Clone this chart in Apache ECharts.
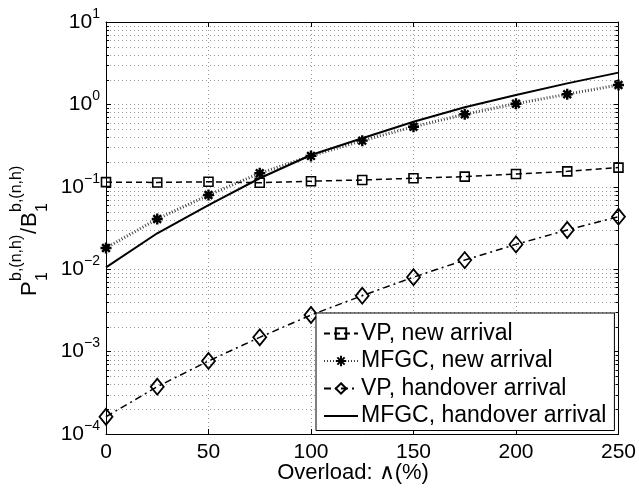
<!DOCTYPE html>
<html>
<head>
<meta charset="utf-8">
<script src="https://cdn.jsdelivr.net/npm/echarts@6/dist/echarts.min.js"></script>
<style>
  html, body { margin: 0; padding: 0; background: #fff; }
  #chart { width: 639px; height: 491px; }
</style>
</head>
<body>
<div id="chart"></div>
<script>
// Overload levels (%)
const overload = [0, 25, 50, 75, 100, 125, 150, 175, 200, 225, 250];

// Blocking ratio P1/B1 for each scheme
const vpNew        = [0.114, 0.113, 0.115, 0.112, 0.117, 0.121, 0.127, 0.133, 0.143, 0.154, 0.171];
const mfgcNew      = [0.0181, 0.0407, 0.0794, 0.146, 0.237, 0.363, 0.535, 0.759, 1.02, 1.33, 1.72];
const vpHandover   = [0.000162, 0.000375, 0.00077, 0.00149, 0.00278, 0.00477, 0.0080, 0.0129, 0.0200, 0.0299, 0.0434];
const mfgcHandover = [0.0105, 0.0273, 0.060, 0.127, 0.243, 0.388, 0.617, 0.923, 1.30, 1.80, 2.43];

const seriesNames = ['VP, new arrival', 'MFGC, new arrival', 'VP, handover arrival', 'MFGC, handover arrival'];

// Axis ranges
const xMin = 0, xMax = 250, xStep = 50;
const yMin = 1e-4, yMax = 10;

// Minor log grid values (2..9 x 10^k)
const minorY = [];
for (let k = -4; k < 1; k++) {
  for (let m = 2; m <= 9; m++) minorY.push([0, m * Math.pow(10, k)]);
}

const FONT = '"Liberation Sans", Arial, Helvetica, sans-serif';
const pair = arr => overload.map((x, i) => [x, arr[i]]);

const chart = echarts.init(document.getElementById('chart'), null, { renderer: 'canvas' });

const gridLine = { show: true, lineStyle: { color: '#9a9a9a', width: 1, type: [1, 3] } };

const supLabel = v => {
  const e = Math.round(Math.log10(v));
  return '{b|10}{s|' + (e < 0 ? '\u2212' + (-e) : String(e)) + '}';
};

const option = {
  animation: false,
  backgroundColor: '#fff',
  grid: { left: 106, top: 22, right: 20, bottom: 57, containLabel: false },
  xAxis: [
    {
      type: 'value', min: xMin, max: xMax, interval: xStep, position: 'bottom',
      axisLine: { show: true, lineStyle: { color: '#000', width: 1 } },
      axisTick: { show: true, inside: true, length: 5, lineStyle: { color: '#000' } },
      axisLabel: { margin: 8, color: '#000', fontSize: 21, fontFamily: FONT },
      splitLine: gridLine
    },
    {
      type: 'value', min: xMin, max: xMax, interval: xStep, position: 'top',
      axisLine: { show: true, onZero: false, lineStyle: { color: '#000', width: 1 } },
      axisTick: { show: true, inside: true, length: 5, lineStyle: { color: '#000' } },
      axisLabel: { show: false },
      splitLine: { show: false }
    }
  ],
  yAxis: [
    {
      type: 'log', logBase: 10, min: yMin, max: yMax, position: 'left',
      axisLine: { show: true, onZero: false, lineStyle: { color: '#000', width: 1 } },
      axisTick: { show: true, inside: true, length: 5, lineStyle: { color: '#000' } },
      axisLabel: {
        margin: 6, color: '#000', fontFamily: FONT,
        formatter: supLabel,
        rich: {
          b: { fontSize: 21, lineHeight: 30, fontFamily: FONT, color: '#000', verticalAlign: 'middle' },
          s: { fontSize: 14, lineHeight: 16, fontFamily: FONT, color: '#000', verticalAlign: 'top' }
        }
      },
      splitLine: gridLine
    },
    {
      type: 'log', logBase: 10, min: yMin, max: yMax, position: 'right',
      axisLine: { show: true, onZero: false, lineStyle: { color: '#000', width: 1 } },
      axisTick: { show: true, inside: true, length: 5, lineStyle: { color: '#000' } },
      axisLabel: { show: false },
      splitLine: { show: false }
    }
  ],
  legend: {
    orient: 'vertical', left: 316, top: 313,
    data: seriesNames,
    backgroundColor: '#fff', borderColor: '#000', borderWidth: 1,
    padding: [9, 8, 3, 7], itemGap: 4.5, itemWidth: 34, itemHeight: 13,
    textStyle: { fontSize: 23, fontFamily: FONT, color: '#000', padding: [0, 0, 0, -2] }
  },
  graphic: [
    {
      type: 'group', x: 30, y: 296, rotation: Math.PI / 2, silent: true,
      children: [
        { type: 'text', x: 0,  y: 0,   style: { text: 'P', font: '22px ' + FONT, fill: '#000', align: 'left', verticalAlign: 'middle' } },
        { type: 'text', x: 15, y: 13,  style: { text: '1', font: '16px ' + FONT, fill: '#000', align: 'left', verticalAlign: 'middle' } },
        { type: 'text', x: 15, y: -13, style: { text: 'b,(n,h)', font: '16px ' + FONT, fill: '#000', align: 'left', verticalAlign: 'middle' } },
        { type: 'text', x: 62, y: 0,   style: { text: '/', font: '22px ' + FONT, fill: '#000', align: 'left', verticalAlign: 'middle' } },
        { type: 'text', x: 69, y: 0,   style: { text: 'B', font: '22px ' + FONT, fill: '#000', align: 'left', verticalAlign: 'middle' } },
        { type: 'text', x: 84, y: 13,  style: { text: '1', font: '16px ' + FONT, fill: '#000', align: 'left', verticalAlign: 'middle' } },
        { type: 'text', x: 84, y: -13, style: { text: 'b,(n,h)', font: '16px ' + FONT, fill: '#000', align: 'left', verticalAlign: 'middle' } }
      ]
    },
    {
      type: 'text', x: 353, y: 473, silent: true,
      style: { text: 'Overload: \u2227(%)', font: '22px ' + FONT, fill: '#000', align: 'center', verticalAlign: 'middle' }
    }
  ],
  series: [
    {
      // minor log grid lines and minor ticks on both vertical edges
      type: 'custom', silent: true, z: 1, xAxisIndex: 0, yAxisIndex: 0,
      data: minorY,
      renderItem: (params, api) => {
        const y = Math.round(api.coord([0, api.value(1)])[1]) + 0.5;
        const cs = params.coordSys;
        const l = cs.x, r = cs.x + cs.width;
        return {
          type: 'group',
          children: [
            { type: 'line', shape: { x1: l, y1: y, x2: r, y2: y }, style: { stroke: '#9a9a9a', lineWidth: 1, lineDash: [1, 3] } },
            { type: 'line', shape: { x1: l, y1: y, x2: l + 3, y2: y }, style: { stroke: '#000', lineWidth: 1 } },
            { type: 'line', shape: { x1: r - 3, y1: y, x2: r, y2: y }, style: { stroke: '#000', lineWidth: 1 } }
          ]
        };
      }
    },
    {
      name: seriesNames[0], type: 'line', z: 3, data: pair(vpNew),
      symbol: 'rect', symbolSize: 9,
      lineStyle: { color: '#000', width: 1.5, type: [6, 4] },
      itemStyle: { color: 'rgba(255,255,255,0)', borderColor: '#000', borderWidth: 1.6 }
    },
    {
      name: seriesNames[1], type: 'line', z: 3, data: pair(mfgcNew),
      symbol: 'path://M0,-1L0,1M-1,0L1,0M-0.7,-0.7L0.7,0.7M-0.7,0.7L0.7,-0.7', symbolSize: 11,
      lineStyle: { color: '#444', width: 3, type: [1, 2] },
      itemStyle: { color: '#000', borderColor: '#000', borderWidth: 2.4 }
    },
    {
      name: seriesNames[2], type: 'line', z: 3, data: pair(vpHandover),
      symbol: 'diamond', symbolSize: [13, 16],
      lineStyle: { color: '#000', width: 1.5, type: [7, 4, 2, 4] },
      itemStyle: { color: 'rgba(255,255,255,0)', borderColor: '#000', borderWidth: 1.8 }
    },
    {
      name: seriesNames[3], type: 'line', z: 3, data: pair(mfgcHandover),
      symbol: 'none', showSymbol: false,
      lineStyle: { color: '#000', width: 2 },
      itemStyle: { color: 'rgba(0,0,0,0)', borderColor: 'rgba(0,0,0,0)', borderWidth: 0 }
    }
  ]
};

chart.setOption(option);
</script>
</body>
</html>
